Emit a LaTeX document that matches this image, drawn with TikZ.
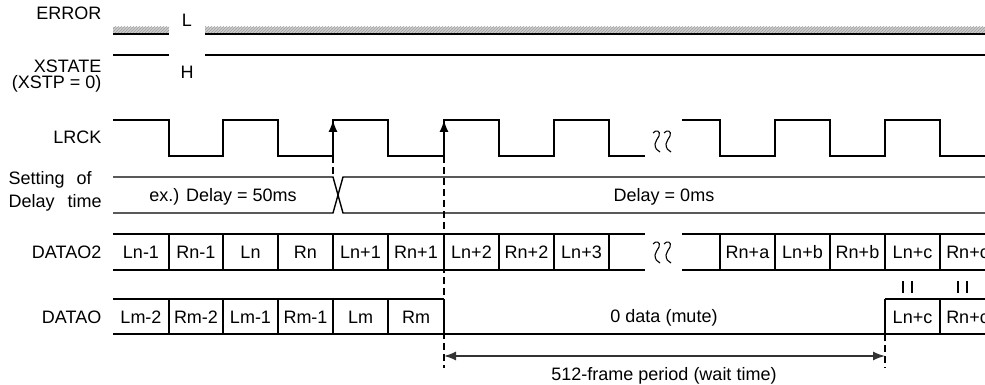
\documentclass[tikz,border=0pt]{standalone}
\usepackage{fontspec}
\setmainfont{Liberation Sans}
\usetikzlibrary{arrows.meta, patterns}

\newcommand{\wavebreak}[2]{%
	\draw [line width = 1.1pt] (#1-2,#2-8) .. controls (#1+1,#2-12) and (#1+6,#2-10) .. (#1+4,#2-5) .. controls (#1+3,#2-2) and (#1,#2) .. (#1,#2+3) .. controls (#1,#2+7) and (#1+2,#2+10) .. (#1+5,#2+11);
	\draw [line width = 1.1pt] (#1+9,#2-8) .. controls (#1+12,#2-12) and (#1+17,#2-10) .. (#1+15,#2-5) .. controls (#1+14,#2-2) and (#1+11,#2) .. (#1+11,#2+3) .. controls (#1+11,#2+7) and (#1+13,#2+10) .. (#1+16,#2+11);
}

\begin{document}
\begin{tikzpicture}[x = 1pt, y = -1pt, line width = 1.4pt,
		every node/.style = {font = \fontsize{18}{21}\selectfont, inner sep = 0pt},
		signal/.style = {anchor = east},
		cell/.style = {anchor = center}]
	\useasboundingbox (0,0) rectangle (985,385);

	\def\xSTART{113};
	\def\xEND{985};
	\def\xBREAKL{645};
	\def\xBREAKR{682};

	\def\yHIGH{120};
	\def\yLOW{156};
	\def\yDELAYtop{177};
	\def\yDELAYbot{213};
	\def\yDOtwoTop{234};
	\def\yDOtwoBot{270};
	\def\yDOtop{299};
	\def\yDObot{334};

	\def\xDELAY{333};
	\def\xMUTE{444};
	\def\xWAIT{885};

	% signal names
	\node [signal] (error) at (102,13) {ERROR};
	\node [signal] (xstate) at (102,66) {XSTATE};
	\node [signal] (xstp) at (102,84) {(XSTP = 0)};
	\node [signal] (lrck) at (102,137) {LRCK};
	\node [anchor = west] (settingof) at (8,180) {Setting\hspace{12pt}of};
	\node [anchor = west] (delaytime) at (8,203) {Delay\hspace{13pt}time};
	\node [signal] (datao2) at (102,252) {DATAO2};
	\node [signal] (datao) at (102,317) {DATAO};

	% ERROR and XSTATE levels
	\begin{scope}
		\fill [gray!40] (\xSTART,27) rectangle (169,33);
		\fill [pattern = north east lines, pattern color = gray!75] (\xSTART,27) rectangle (169,33);
		\fill [gray!40] (205,27) rectangle (\xEND,33);
		\fill [pattern = north east lines, pattern color = gray!75] (205,27) rectangle (\xEND,33);
		\draw (\xSTART,34) -- (169,34);
		\draw (205,34) -- (\xEND,34);
		\draw (\xSTART,55) -- (169,55);
		\draw (205,55) -- (\xEND,55);
		\node (levelL) at (187,20) {L};
		\node (levelH) at (187,72) {H};
	\end{scope}

	% LRCK
	\begin{scope}
		\draw (\xSTART,\yHIGH) -- (169,\yHIGH) -- (169,\yLOW) -- (223,\yLOW) -- (223,\yHIGH) -- (278,\yHIGH) -- (278,\yLOW) -- (333,\yLOW) -- (333,\yHIGH) -- (388,\yHIGH) -- (388,\yLOW) -- (444,\yLOW) -- (444,\yHIGH) -- (499,\yHIGH) -- (499,\yLOW) -- (554,\yLOW) -- (554,\yHIGH) -- (609,\yHIGH) -- (609,\yLOW) -- (\xBREAKL,\yLOW);
		\draw (\xBREAKR,\yHIGH) -- (720,\yHIGH) -- (720,\yLOW) -- (775,\yLOW) -- (775,\yHIGH) -- (830,\yHIGH) -- (830,\yLOW) -- (885,\yLOW) -- (885,\yHIGH) -- (940,\yHIGH) -- (940,\yLOW) -- (\xEND,\yLOW);
		\wavebreak{655}{141}
		\draw [-{Latex[length = 12pt, width = 9pt]}] (\xDELAY,\yLOW) -- (\xDELAY,\yHIGH);
		\draw [-{Latex[length = 12pt, width = 9pt]}] (\xMUTE,\yLOW) -- (\xMUTE,\yHIGH);
	\end{scope}

	% delay setting
	\begin{scope}
		\draw (\xSTART,\yDELAYtop) -- (\xDELAY,\yDELAYtop) -- (343,\yDELAYbot) -- (\xEND,\yDELAYbot);
		\draw (\xSTART,\yDELAYbot) -- (\xDELAY,\yDELAYbot) -- (343,\yDELAYtop) -- (\xEND,\yDELAYtop);
		\node (delay50) at (223,197) {ex.) Delay = 50ms};
		\node (delay0) at (664,197) {Delay = 0ms};
	\end{scope}

	% DATAO2
	\begin{scope}
		\draw (\xSTART,\yDOtwoTop) -- (\xBREAKL,\yDOtwoTop);
		\draw (\xSTART,\yDOtwoBot) -- (\xBREAKL,\yDOtwoBot);
		\draw (\xBREAKR,\yDOtwoTop) -- (\xEND,\yDOtwoTop);
		\draw (\xBREAKR,\yDOtwoBot) -- (\xEND,\yDOtwoBot);
		\foreach \x in {169,223,278,333,388,444,499,554,609,720,775,830,885,940}
			\draw (\x,\yDOtwoTop) -- (\x,\yDOtwoBot);
		\foreach \x/\txt in {141/Ln-1, 196/Rn-1, 250.5/Ln, 305.5/Rn, 360.5/Ln+1, 416/Rn+1, 471.5/Ln+2, 526.5/Rn+2, 581.5/Ln+3, 747.5/Rn+a, 802.5/Ln+b, 857.5/Rn+b, 912.5/Ln+c, 967.5/Rn+c}
			\node [cell] at (\x,252) {\txt};
		\wavebreak{655}{252}
	\end{scope}

	% equal marks
	\begin{scope}[line width = 1.3pt]
		\foreach \x in {903,912,958,967}
			\draw (\x,281) -- (\x,293);
	\end{scope}

	% DATAO
	\begin{scope}
		\draw (\xSTART,\yDOtop) -- (\xMUTE,\yDOtop);
		\draw (\xSTART,\yDObot) -- (\xEND,\yDObot);
		\draw (\xWAIT,\yDOtop) -- (\xEND,\yDOtop);
		\foreach \x in {169,223,278,333,388,444,885,940}
			\draw (\x,\yDOtop) -- (\x,\yDObot);
		\foreach \x/\txt in {141/Lm-2, 196/Rm-2, 250.5/Lm-1, 305.5/Rm-1, 360.5/Lm, 416/Rm, 912.5/Ln+c, 967.5/Rn+c}
			\node [cell] at (\x,317) {\txt};
		\node (mute) at (664,318) {0 data (mute)};
	\end{scope}

	% timing markers
	\coordinate (waitStart) at (\xMUTE,356);
	\coordinate (waitEnd) at (\xWAIT,356);
	\begin{scope}[dashed, dash pattern = on 7pt off 4pt]
		\draw (\xDELAY,\yLOW) -- (\xDELAY,\yDELAYtop);
		\draw (\xMUTE,\yLOW) -- (\xMUTE,368);
		\draw (\xWAIT,\yDObot) -- (\xWAIT,368);
	\end{scope}
	\draw [{Latex[length = 12pt, width = 9pt]}-{Latex[length = 12pt, width = 9pt]}, gray!40!black] (waitStart) -- (waitEnd);
	\node (waittime) at (664,376) {512-frame period (wait time)};
\end{tikzpicture}
\end{document}
